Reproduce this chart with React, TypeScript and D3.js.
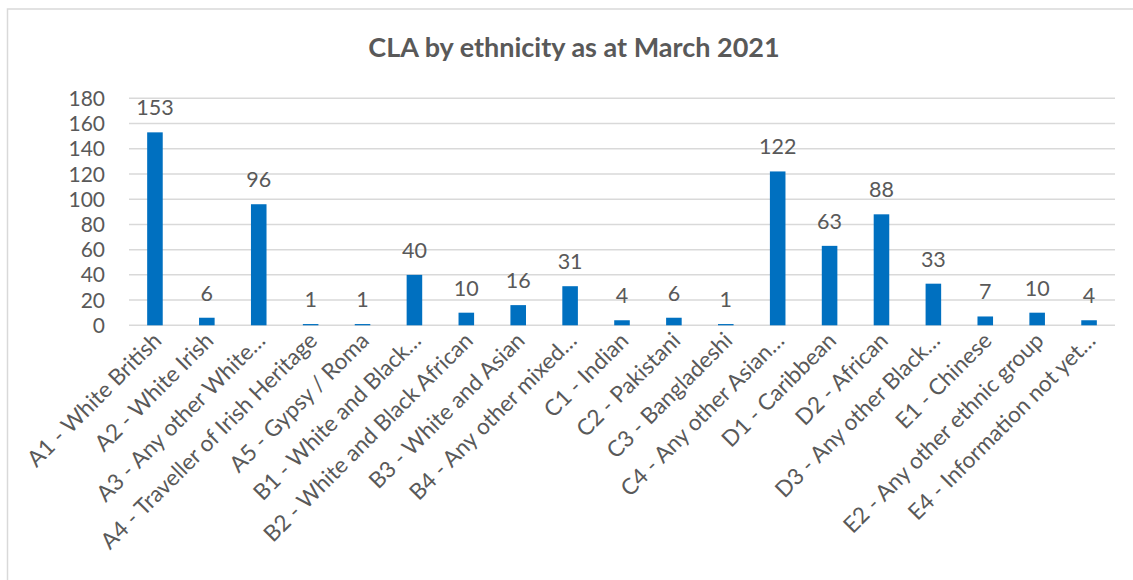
import React from "react";
import * as d3 from "d3";

const categories = [
  "A1 - White British",
  "A2 - White Irish",
  "A3 - Any other White…",
  "A4 - Traveller of Irish Heritage",
  "A5 - Gypsy / Roma",
  "B1 - White and Black…",
  "B2 - White and Black African",
  "B3 - White and Asian",
  "B4 - Any other mixed…",
  "C1 - Indian",
  "C2 - Pakistani",
  "C3 - Bangladeshi",
  "C4 - Any other Asian…",
  "D1 - Caribbean",
  "D2 - African",
  "D3 - Any other Black…",
  "E1 - Chinese",
  "E2 - Any other ethnic group",
  "E4 - Information not yet…",
];
const values = [153, 6, 96, 1, 1, 40, 10, 16, 31, 4, 6, 1, 122, 63, 88, 33, 7, 10, 4];
const yTicks = [0, 20, 40, 60, 80, 100, 120, 140, 160, 180];
const title = "CLA by ethnicity as at March 2021";

const W = 1133;
const H = 580;
const FONT = "Lato, sans-serif";
const TEXT = "#595959";
const GRID = "#D9D9D9";
const BAR = "#0070C0";

export default function App() {
  const plotLeft = 129;
  const plotRight = 1115;
  const y = d3.scaleLinear().domain([0, 180]).range([325.3, 98.3]);
  const x = d3
    .scaleBand<string>()
    .domain(categories)
    .range([plotLeft, plotRight])
    .paddingInner(0.7)
    .paddingOuter(0.35);
  const band = x.step();

  return (
    <svg
      width={W}
      height={H}
      style={{ position: "absolute", left: 0, top: 0, background: "#fff" }}
      fontFamily={FONT}
    >
      <rect x={0} y={0} width={W} height={H} fill="#fff" />
      <rect x={7.5} y={9} width={W + 20} height={H + 20} fill="#fff" stroke={GRID} strokeWidth={1.5} />
      <text x={574} y={57} textAnchor="middle" fontSize={27} fontWeight="bold" fill={TEXT}>
        {title}
      </text>
      {yTicks.map((t) => (
        <g key={t}>
          <line x1={plotLeft} x2={plotRight} y1={y(t)} y2={y(t)} stroke={GRID} strokeWidth={1.5} />
          <text x={105} y={y(t)} dy="0.36em" textAnchor="end" fontSize={21} fill={TEXT}>
            {t}
          </text>
        </g>
      ))}
      {categories.map((c, i) => {
        const cx = plotLeft + band * (i + 0.5);
        const bx = cx - x.bandwidth() / 2;
        return (
          <g key={c}>
            <rect x={bx} y={y(values[i])} width={x.bandwidth()} height={y(0) - y(values[i])} fill={BAR} />
            <text x={cx} y={y(values[i]) - 17} textAnchor="middle" fontSize={21.5} fill={TEXT}>
              {values[i]}
            </text>
            <text
              transform={`translate(${cx + 8},${342}) rotate(-45)`}
              textAnchor="end"
              fontSize={22.5}
              fill={TEXT}
            >
              {c}
            </text>
          </g>
        );
      })}
    </svg>
  );
}
